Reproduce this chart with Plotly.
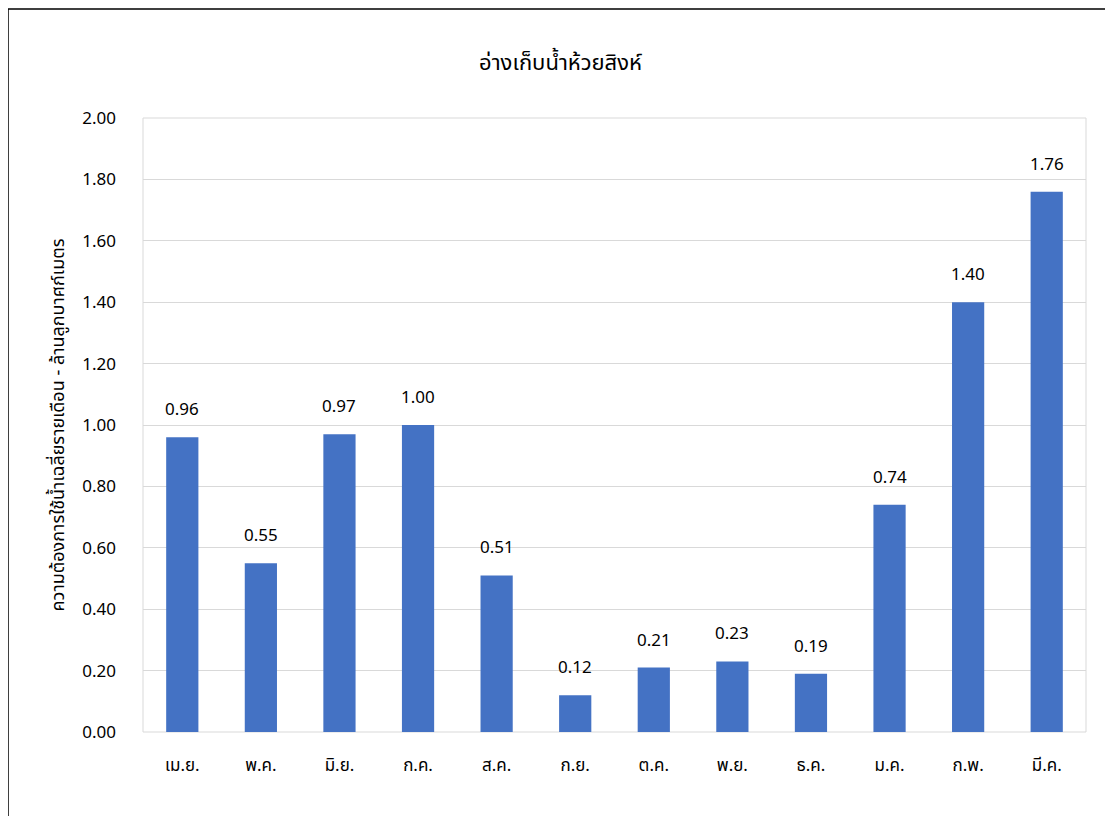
import plotly.graph_objects as go

months = ["เม.ย.", "พ.ค.", "มิ.ย.", "ก.ค.", "ส.ค.", "ก.ย.", "ต.ค.", "พ.ย.", "ธ.ค.", "ม.ค.", "ก.พ.", "มี.ค."]
demand = [0.96, 0.55, 0.97, 1.00, 0.51, 0.12, 0.21, 0.23, 0.19, 0.74, 1.40, 1.76]
title_text = "อ่างเก็บน้ำห้วยสิงห์"
ytitle = "ความต้องการใช้น้ำเฉลี่ยรายเดือน - ล้านลูกบาศก์เมตร"

FONT = "Tahoma, Noto Sans Thai, Noto Sans, sans-serif"

fig = go.Figure(go.Bar(
    x=months, y=demand,
    marker=dict(color="#4472C4", line=dict(width=0)),
    hoverinfo="x+y",
))

for m, v in zip(months, demand):
    fig.add_annotation(x=m, y=v, text=f"{v:.2f}", showarrow=False,
                       yanchor="middle", yshift=27,
                       font=dict(size=17, color="#000000"))

OFF = 8
W, H = 1113 - OFF, 816 - OFF
L, R, T, B = 143 - OFF, 27, 118 - OFF, 84
pw, ph = W - L - R, H - T - B

def px(x):
    return (x - OFF - L) / pw

def py(y):
    return (H + OFF - B - y) / ph

fig.update_layout(
    width=W, height=H,
    margin=dict(l=L, r=R, t=T, b=B),
    paper_bgcolor="white", plot_bgcolor="white",
    font=dict(family=FONT, size=17, color="#000000"),
    title=dict(text=title_text, x=0.5, xanchor="center", y=1 - (62 - OFF) / H, yanchor="middle",
               font=dict(size=22, color="#000000")),
    bargap=0.59,
    showlegend=False,
    xaxis=dict(showgrid=False, ticks="", showline=False, tickfont=dict(size=17),
               ticklabelstandoff=21),
    yaxis=dict(range=[0, 2.0], dtick=0.2, tickformat=".2f", showgrid=True,
               gridcolor="#D9D9D9", gridwidth=1, zeroline=False, showline=False,
               ticks="", ticklabelstandoff=26,
               tickfont=dict(size=17),
               title=dict(text=ytitle, font=dict(size=18), standoff=12)),
    shapes=[
        dict(type="rect", xref="paper", yref="paper", x0=0, x1=1, y0=0, y1=1,
             line=dict(color="#D9D9D9", width=1), layer="below"),
        dict(type="rect", xref="paper", yref="paper", x0=px(8), x1=px(1130), y0=py(830), y1=py(9),
             line=dict(color="#000000", width=1.5), layer="above"),
    ],
)

fig.write_html("out.html")
